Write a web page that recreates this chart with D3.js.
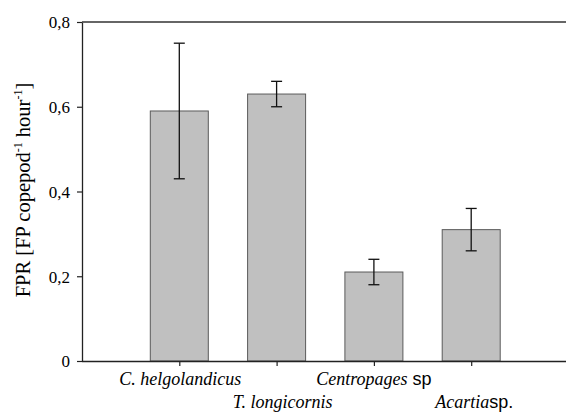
<!DOCTYPE html>
<html><head><meta charset="utf-8">
<script src="https://cdn.jsdelivr.net/npm/d3@7"></script>
<style>body{margin:0;background:#fff}svg{display:block}</style>
</head><body>
<svg id="c" width="566" height="413"></svg>
<script>
const categories = ["C. helgolandicus", "T. longicornis", "Centropages sp", "Acartia sp."];
const values = [0.59, 0.63, 0.21, 0.31];
const errLow = [0.43, 0.60, 0.18, 0.26];
const errHigh = [0.75, 0.66, 0.24, 0.36];
const yTicks = [0, 0.2, 0.4, 0.6, 0.8];
const yTickLabels = ["0", "0,2", "0,4", "0,6", "0,8"];

const SERIF = "'Liberation Serif', 'Times New Roman', serif";
const SANS = "'Liberation Sans', Arial, sans-serif";
const svg = d3.select("#c").attr("font-family", SERIF);
const x0 = 82, xEnd = 568.5, yTop = 22, yBot = 361;
const x = d3.scalePoint().domain(categories).range([x0, xEnd]).padding(1);
const y = d3.scaleLinear().domain([0, 0.8]).range([yBot, yTop]);
const barW = 58, capW = 11;

svg.selectAll("rect.bar").data(categories).join("rect")
  .attr("x", d => x(d) - barW/2).attr("width", barW)
  .attr("y", (d,i) => y(values[i])).attr("height", (d,i) => y(0) - y(values[i]))
  .attr("fill", "#c0c0c0").attr("stroke", "#5a5a5a").attr("stroke-width", 1);

const eg = svg.append("g").attr("stroke", "#111").attr("stroke-width", 1.3);
categories.forEach((c,i) => {
  eg.append("line").attr("x1", x(c)).attr("x2", x(c)).attr("y1", y(errLow[i])).attr("y2", y(errHigh[i]));
  eg.append("line").attr("x1", x(c)-capW/2).attr("x2", x(c)+capW/2).attr("y1", y(errLow[i])).attr("y2", y(errLow[i]));
  eg.append("line").attr("x1", x(c)-capW/2).attr("x2", x(c)+capW/2).attr("y1", y(errHigh[i])).attr("y2", y(errHigh[i]));
});

const ya = svg.append("g").attr("transform", `translate(${x0},0)`)
  .call(d3.axisLeft(y).tickValues(yTicks).tickFormat((d,i) => yTickLabels[i]).tickSize(5).tickSizeOuter(0));
ya.attr("font-family", SERIF).attr("font-size", 17);
ya.select(".domain").attr("stroke", "#222").attr("stroke-width", 1.3);
ya.selectAll(".tick line").attr("stroke", "#222").attr("stroke-width", 1.2);
ya.selectAll(".tick text").attr("x", -12).attr("dy", "0.35em").attr("fill", "#000")
  .style("font-family", SERIF).style("font-size", "17px");

const xa = svg.append("g").attr("transform", `translate(0,${yBot})`)
  .call(d3.axisBottom(x).tickSize(5).tickSizeOuter(0).tickFormat(""));
xa.select(".domain").attr("d", `M${x0},0.5H566`).attr("stroke", "#222").attr("stroke-width", 1.3);
xa.selectAll(".tick line").attr("stroke", "#222").attr("stroke-width", 1.2);

svg.append("line").attr("x1", x0).attr("x2", 566).attr("y1", yTop).attr("y2", yTop)
  .attr("stroke", "#333").attr("stroke-width", 1.3);

const labelParts = [
  [["C. helgolandicus", true]],
  [["T. longicornis", true]],
  [["Centropages", true], [" sp", false]],
  [["Acartia", true], ["sp.", false]]
];
const labelShift = [1, 6, 0, 3];
categories.forEach((c,i) => {
  const t = svg.append("text").attr("x", x(c) + labelShift[i]).attr("y", i % 2 === 0 ? 385 : 408)
    .attr("text-anchor", "middle").style("font-size", "18px");
  labelParts[i].forEach(p => t.append("tspan").text(p[0])
    .style("font-style", p[1] ? "italic" : "normal")
    .style("font-family", p[1] ? SERIF : SANS));
});

const yl = svg.append("text").attr("transform", "translate(30,190) rotate(-90)")
  .attr("text-anchor", "middle").style("font-family", SERIF).style("font-size", "20.5px");
yl.append("tspan").text("FPR [FP copepod");
yl.append("tspan").text("-1").attr("dy", -8).style("font-size", "12px");
yl.append("tspan").text(" hour").attr("dy", 8);
yl.append("tspan").text("-1").attr("dy", -8).style("font-size", "12px");
yl.append("tspan").text("]").attr("dy", 8);
</script>
</body></html>
